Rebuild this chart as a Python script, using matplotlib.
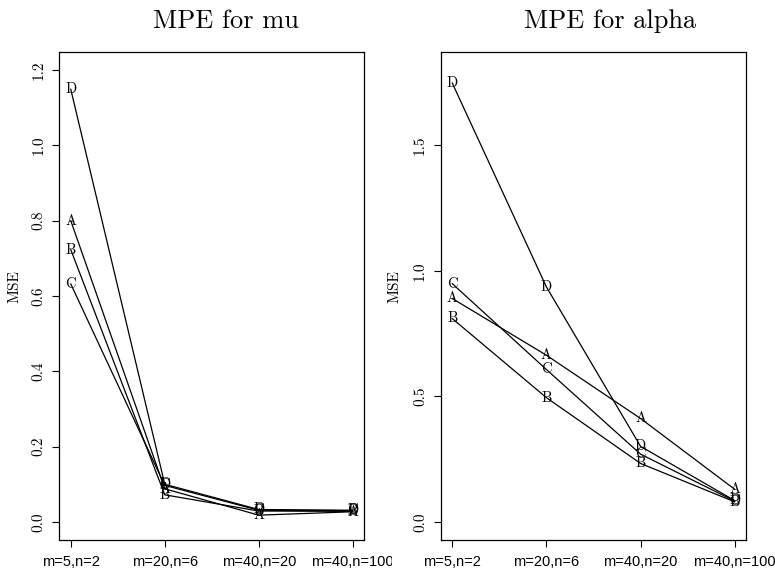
import matplotlib
matplotlib.use("Agg")
import matplotlib.pyplot as plt
from matplotlib.transforms import Bbox

plt.rcParams['axes.unicode_minus'] = False

settings = ["m=5,n=2", "m=20,n=6", "m=40,n=20", "m=40,n=100"]
x = [1, 2, 3, 4]
series = ["A", "B", "C", "D"]

mu_A = [0.800, 0.088, 0.018, 0.027]
mu_B = [0.723, 0.072, 0.029, 0.028]
mu_C = [0.632, 0.097, 0.031, 0.030]
mu_D = [1.149, 0.100, 0.033, 0.031]

alpha_A = [0.890, 0.664, 0.412, 0.130]
alpha_B = [0.810, 0.495, 0.233, 0.080]
alpha_C = [0.949, 0.607, 0.270, 0.083]
alpha_D = [1.748, 0.936, 0.301, 0.085]

mu_ticks = [0.0, 0.2, 0.4, 0.6, 0.8, 1.0, 1.2]
alpha_ticks = [0.0, 0.5, 1.0, 1.5]

W, H = 775, 569
fig = plt.figure(figsize=(W / 100, H / 100), dpi=100)

def px_axes(l, t, r, b):
    return fig.add_axes([l / W, 1 - b / H, (r - l) / W, (b - t) / H])

L1, R1 = 59.5, 364
L2, R2 = 441, 746
T, B = 52, 540
ax1 = px_axes(L1, T, R1, B)
ax2 = px_axes(L2, T, R2, B)

serif = 'cmr10'

def panel(ax, data, ylim, yticks, clip_right, left, label_x):
    for name, vals in zip(series, data):
        ax.plot(x, vals, color='black', lw=0.9, zorder=2)
        for xi, yi in zip(x, vals):
            ax.text(xi, yi, name, ha='center', va='center', fontsize=10.5,
                    family=serif, zorder=3)
    r = ylim[1] - ylim[0]
    ax.set_ylim(ylim[0] - 0.04 * r, ylim[1] + 0.04 * r)
    ax.set_xlim(0.88, 4.12)
    ax.set_yticks(yticks)
    ax.set_yticklabels([f"{t:.1f}" for t in yticks], rotation=90, va='center',
                       family=serif, fontsize=11)
    ax.set_xticks(x)
    ax.set_xticklabels(settings, family='Liberation Sans', fontsize=10.5)
    ax.tick_params(direction='out', length=5, width=0.8, color='black')
    ax.tick_params(axis='y', pad=5)
    ax.tick_params(axis='x', pad=6)
    for s in ax.spines.values():
        s.set_linewidth(0.9)
        s.set_color('black')
    ax.set_ylabel("MSE", family=serif, fontsize=11)
    ax.yaxis.set_label_coords((label_x - left) / (R1 - L1), (B - 287) / (B - T))
    if clip_right is not None:
        bb = Bbox.from_extents(0, 0, clip_right, H)
        for lab in ax.get_xticklabels():
            lab.set_clip_on(True)
            lab.set_clip_box(bb)

panel(ax1, [mu_A, mu_B, mu_C, mu_D], (0, 1.2), mu_ticks, 392, L1, 21)
panel(ax2, [alpha_A, alpha_B, alpha_C, alpha_D], (0, 1.8), alpha_ticks, None, L2, 402)

fig.text(226 / W, 1 - 28 / H, "MPE for mu", ha='center', va='baseline',
         family=serif, fontsize=19)
fig.text(610 / W, 1 - 28 / H, "MPE for alpha", ha='center', va='baseline',
         family=serif, fontsize=19)

fig.savefig("out.png", dpi=100)
